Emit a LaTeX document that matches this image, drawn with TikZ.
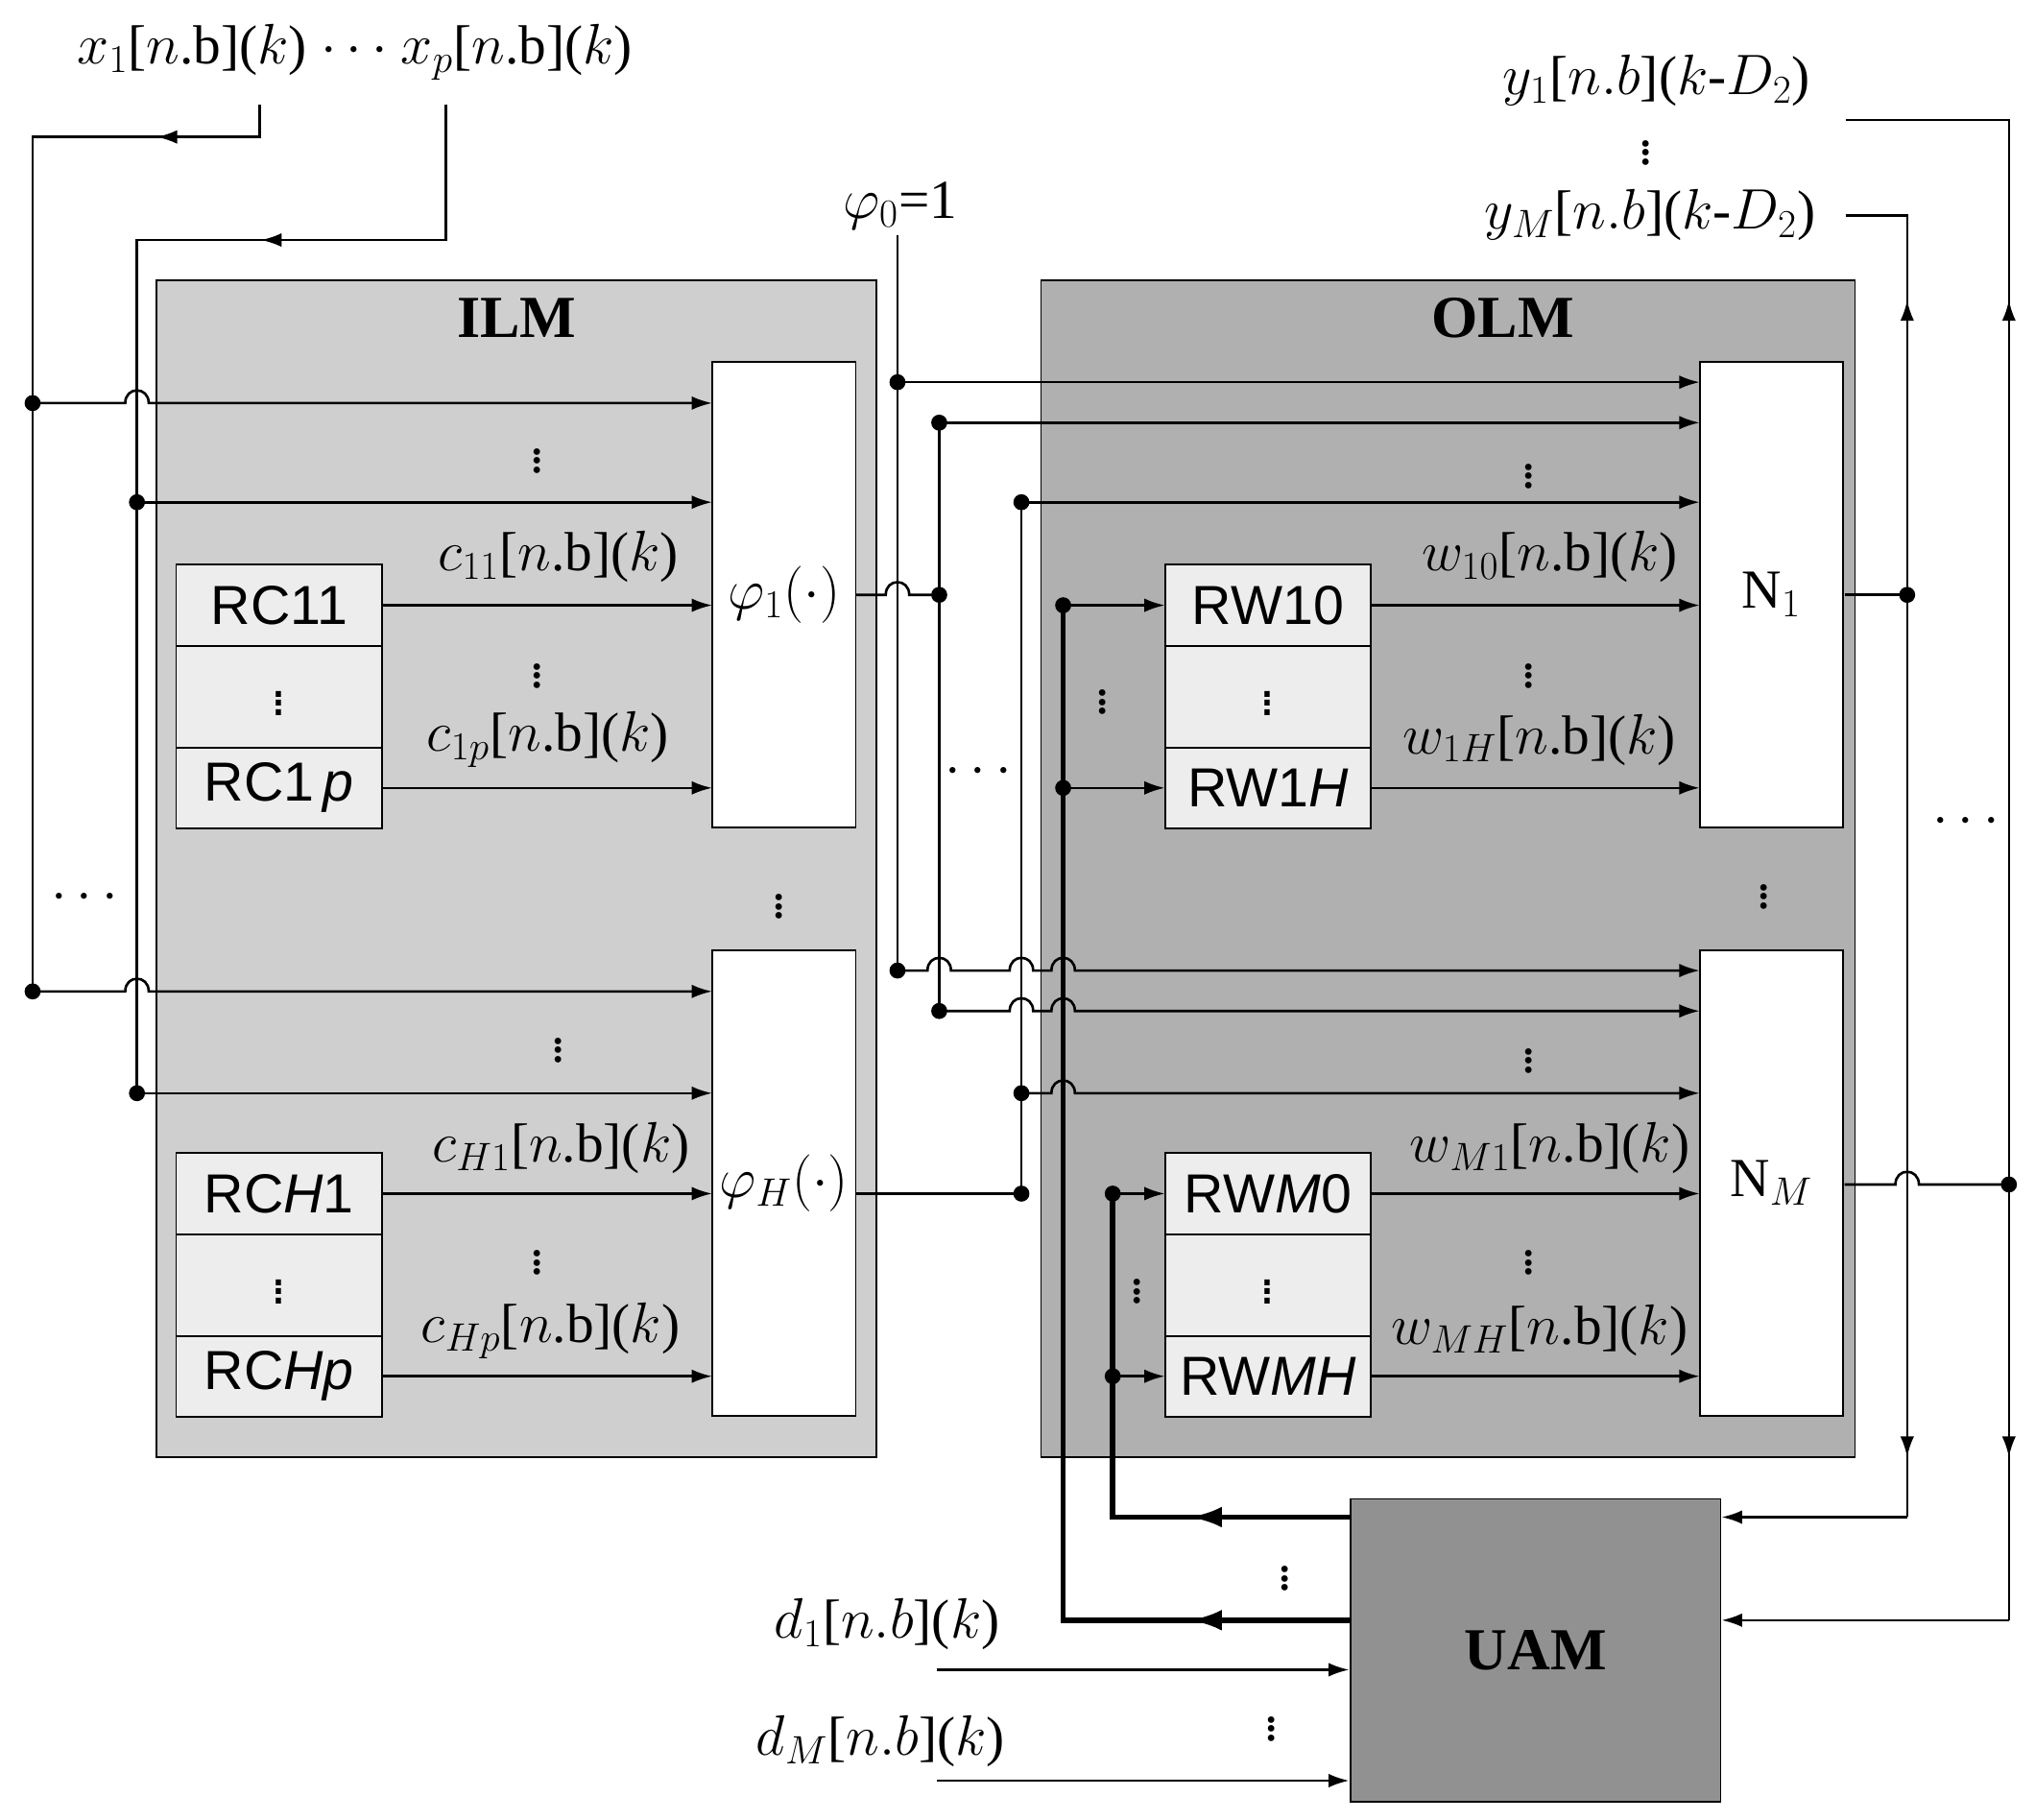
\documentclass[tikz,border=0pt]{standalone}
\usepackage{fontspec}
\setmainfont{Liberation Serif}
\newfontfamily\sansf{Liberation Sans}
\usetikzlibrary{arrows.meta}
\begin{document}
\begin{tikzpicture}[x=0.02cm,y=-0.02cm,line width=1.1pt,
  ar/.style={-{Latex[length=9pt,width=6pt]}},
  tar/.style={line width=2.4pt},
  lab/.style={font=\fontsize{24}{28}\selectfont,inner sep=1pt},
  vd/.style={font=\fontsize{24}{28}\selectfont,inner sep=0pt},
  sl/.style={font=\sansf\fontsize{24}{28}\selectfont},
  hop/.style args={#1/#2}{insert path={-- ({#1-9},#2) .. controls ({#1-9},{#2-13}) and ({#1+9},{#2-13}) .. ({#1+9},#2)}},
  dot/.style={circle,fill,inner sep=0pt,minimum size=7pt}]
\useasboundingbox (0,0) rectangle (1560,1395);
% boxes
\node[draw,fill=black!19,minimum width=552*0.02cm,minimum height=902*0.02cm,line width=0.8pt] (ilm) at (396,666) {};
\node[draw,fill=black!31,minimum width=624*0.02cm,minimum height=902*0.02cm,line width=0.8pt] (olm) at (1110,666) {};
\node[font=\bfseries\fontsize{26}{30}\selectfont] at (396,244) {ILM};
\node[font=\bfseries\fontsize{26}{30}\selectfont] at (1152,244) {OLM};
\node[draw,fill=black!43,minimum width=284*0.02cm,minimum height=232*0.02cm,line width=0.8pt,font=\bfseries\fontsize{26}{30}\selectfont] (uam) at (1177,1265) {UAM};
% phi and N boxes
\foreach \n/\x/\y/\t in {p1/601/456/{$\varphi_1(\cdot)$},pH/601/907/{$\varphi_H(\cdot)$},n1/1358/456/{N$_1$},nM/1358/907/{N$_M$}}
  \node[draw,fill=white,minimum width=110*0.02cm,minimum height=357*0.02cm,line width=0.8pt,lab] (\n) at (\x,\y) {\t};
% stacks
\newcommand\stack[4]{%
 \node[draw,fill=black!7,minimum width=158*0.02cm,minimum height=62*0.02cm,line width=0.8pt,sl] (#1a) at (#2,{#3+31}) {#4};
 \node[draw,fill=black!7,minimum width=158*0.02cm,minimum height=78*0.02cm,line width=0.8pt,sl] (#1b) at (#2,{#3+101}) {$\vdots$};}
\stack{rc1}{214}{433}{RC11}
\node[draw,fill=black!7,minimum width=158*0.02cm,minimum height=62*0.02cm,line width=0.8pt,sl] (rc1c) at (214,604) {RC1\,\textit{p}};
\stack{rcH}{214}{884}{RC\textit{H}1}
\node[draw,fill=black!7,minimum width=158*0.02cm,minimum height=62*0.02cm,line width=0.8pt,sl] (rcHc) at (214,1055) {RC\textit{Hp}};
\stack{rw1}{972}{433}{RW10}
\node[draw,fill=black!7,minimum width=158*0.02cm,minimum height=62*0.02cm,line width=0.8pt,sl] (rw1c) at (972,604) {RW1\textit{H}};
\stack{rwM}{972}{884}{RW\textit{M}0}
\node[draw,fill=black!7,minimum width=158*0.02cm,minimum height=62*0.02cm,line width=0.8pt,sl] (rwMc) at (972,1055) {RW\textit{MH}};
% top inputs
\node[lab] at (272,40) {$x_1$[$n$.b]($k$) $\cdots$ $x_p$[$n$.b]($k$)};
\coordinate (a1) at (199,80); \coordinate (a2) at (342,80);
\draw (a1) -- (199,105) -- (25,105) -- (25,760);
\draw[ar] (199,105) -- (120,105);
\draw (a2) -- (342,184) -- (105,184) -- (105,838);
\draw[ar] (342,184) -- (200,184);
\foreach \y in {309,760} {\node[dot] at (25,\y) {}; \draw[ar] (25,\y) [hop=105/\y] -- (546,\y);}
\foreach \y in {385,838} {\node[dot] at (105,\y) {}; \draw[ar] (105,\y) -- (546,\y);}
\node[lab] at (65,688) {$\cdots$};
\foreach \p in {(412,348),(412,513),(428,800),(412,963),(597,690),(1172,360),(1172,513),(1172,808),(1172,963),(1352,682),(845,533),(872,985),(985,1205),(975,1320),(1262,112)}
  \node[vd] at \p {$\vdots$};
% RC outputs
\draw[ar] (rc1a.east) -- (546,464);
\draw[ar] (rc1c.east) -- (546,604);
\draw[ar] (rcHa.east) -- (546,915);
\draw[ar] (rcHc.east) -- (546,1055);
\node[lab] at (428,427) {$c_{11}$[$n$.b]($k$)};
\node[lab] at (420,567) {$c_{1p}$[$n$.b]($k$)};
\node[lab] at (430,880) {$c_{H1}$[$n$.b]($k$)};
\node[lab] at (422,1020) {$c_{Hp}$[$n$.b]($k$)};
% phi0
\node[lab] at (690,158) {$\varphi_0$=1};
\coordinate (f0) at (688,180);
\draw (f0) -- (688,744);
\node[dot] at (688,293) {}; \node[dot] at (688,744) {};
\draw[ar] (688,293) -- (1303,293);
\draw[ar] (688,744) [hop=720/744] [hop=783/744] [hop=815/744] -- (1303,744);
% phi1 output
\draw (656,456) [hop=688/456] -- (720,456);
\node[dot] at (720,456) {};
\draw (720,324) -- (720,775);
\node[dot] at (720,324) {}; \node[dot] at (720,775) {};
\draw[ar] (720,324) -- (1303,324);
\draw[ar] (720,775) [hop=783/775] [hop=815/775] -- (1303,775);
% phiH output
\draw (656,915) -- (783,915);
\node[dot] at (783,915) {};
\draw (783,385) -- (783,915);
\node[dot] at (783,385) {}; \node[dot] at (783,838) {};
\draw[ar] (783,385) -- (1303,385);
\draw[ar] (783,838) [hop=815/838] -- (1303,838);
\node[lab] at (750,592) {$\cdots$};
% thick lines
\draw[tar] (1035,1242) -- (815,1242) -- (815,464);
\draw[tar,-{Latex[length=14pt,width=9pt]}] (1035,1242) -- (912,1242);
\draw[tar] (1035,1163) -- (853,1163) -- (853,915);
\draw[tar,-{Latex[length=14pt,width=9pt]}] (1035,1163) -- (912,1163);
\foreach \y in {464,604} {\node[dot] at (815,\y) {}; \draw[ar] (815,\y) -- (893,\y);}
\foreach \y in {915,1055} {\node[dot] at (853,\y) {}; \draw[ar] (853,\y) -- (893,\y);}
% RW outputs
\draw[ar] (rw1a.east) -- (1303,464);
\draw[ar] (rw1c.east) -- (1303,604);
\draw[ar] (rwMa.east) -- (1303,915);
\draw[ar] (rwMc.east) -- (1303,1055);
\node[lab] at (1188,427) {$w_{10}$[$n$.b]($k$)};
\node[lab] at (1180,567) {$w_{1H}$[$n$.b]($k$)};
\node[lab] at (1188,880) {$w_{M1}$[$n$.b]($k$)};
\node[lab] at (1180,1020) {$w_{MH}$[$n$.b]($k$)};
% N outputs
\draw (1414,456) -- (1462,456); \node[dot] at (1462,456) {};
\draw (1414,908) [hop=1462/908] -- (1540,908); \node[dot] at (1540,908) {};
\node[lab] at (1270,62) {$y_1$[$n.b$]($k$-$D_2$)};
\node[lab] at (1265,165) {$y_M$[$n.b$]($k$-$D_2$)};
\draw (1415,165) -- (1462,165) -- (1462,1163);
\draw (1415,92) -- (1540,92) -- (1540,1242);
\draw[ar] (1462,300) -- (1462,230);
\draw[ar] (1540,300) -- (1540,230);
\draw[ar] (1462,1050) -- (1462,1117);
\draw[ar] (1540,1050) -- (1540,1117);
\draw[ar] (1462,1163) -- (uam.east |- 0,1163);
\draw[ar] (1540,1242) -- (uam.east |- 0,1242);
\node[lab] at (1507,630) {$\cdots$};
% d inputs
\node[lab] at (680,1245) {$d_1$[$n.b$]($k$)};
\node[lab] at (675,1335) {$d_M$[$n.b$]($k$)};
\draw[ar] (718,1280) -- (uam.west |- 0,1280);
\draw[ar] (718,1365) -- (uam.west |- 0,1365);
\end{tikzpicture}
\end{document}
